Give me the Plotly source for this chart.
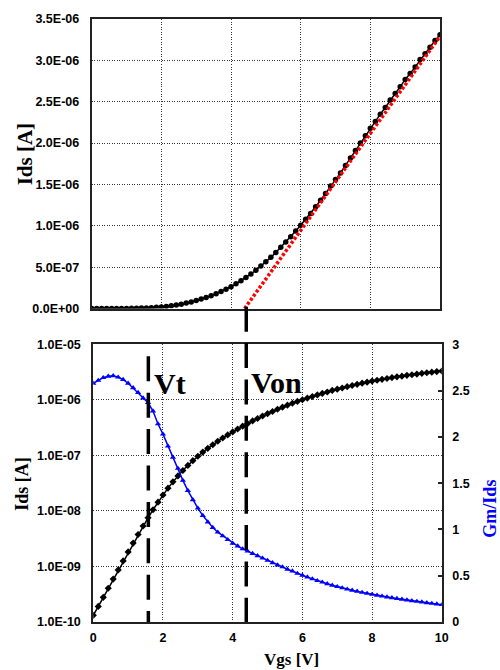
import plotly.graph_objects as go

# ---------------- data ----------------
VGS = [0.0, 0.143, 0.286, 0.429, 0.571, 0.714, 0.857,
       1.0, 1.143, 1.286, 1.429, 1.571, 1.714, 1.857,
       2.0, 2.143, 2.286, 2.429, 2.571, 2.714, 2.857,
       3.0, 3.143, 3.286, 3.429, 3.571, 3.714, 3.857,
       4.0, 4.143, 4.286, 4.429, 4.571, 4.714, 4.857,
       5.0, 5.143, 5.286, 5.429, 5.571, 5.714, 5.857,
       6.0, 6.143, 6.286, 6.429, 6.571, 6.714, 6.857,
       7.0, 7.143, 7.286, 7.429, 7.571, 7.714, 7.857,
       8.0, 8.143, 8.286, 8.429, 8.571, 8.714, 8.857,
       9.0, 9.143, 9.286, 9.429, 9.571, 9.714, 9.857,
       10.0]

IDS = [1.32e-10, 1.91e-10, 2.78e-10, 4.06e-10, 5.93e-10, 8.67e-10, 1.26e-9,
       1.83e-9, 2.64e-9, 3.77e-9, 5.35e-9, 7.53e-9, 1.05e-8, 1.44e-8,
       1.94e-8, 2.57e-8, 3.34e-8, 4.27e-8, 5.36e-8, 6.62e-8, 8.05e-8,
       9.66e-8, 1.15e-7, 1.34e-7, 1.56e-7, 1.80e-7, 2.06e-7, 2.34e-7,
       2.65e-7, 2.99e-7, 3.36e-7, 3.75e-7, 4.18e-7, 4.63e-7, 5.13e-7,
       5.65e-7, 6.19e-7, 6.78e-7, 7.40e-7, 8.04e-7, 8.69e-7, 9.38e-7,
       1.007e-6, 1.08e-6, 1.15e-6, 1.23e-6, 1.31e-6, 1.39e-6, 1.48e-6,
       1.56e-6, 1.64e-6, 1.73e-6, 1.82e-6, 1.91e-6, 2.00e-6, 2.09e-6,
       2.18e-6, 2.26e-6, 2.35e-6, 2.43e-6, 2.52e-6, 2.60e-6, 2.68e-6,
       2.77e-6, 2.84e-6, 2.92e-6, 3.01e-6, 3.08e-6, 3.16e-6, 3.24e-6,
       3.31e-6]

GM_IDS = [2.58, 2.61, 2.64, 2.655, 2.66, 2.645, 2.62,
          2.58, 2.53, 2.48, 2.42, 2.37, 2.28, 2.14,
          2.03, 1.90, 1.78, 1.66, 1.53, 1.42, 1.32,
          1.23, 1.15, 1.08, 1.02, 0.97, 0.93, 0.89,
          0.85, 0.82, 0.79, 0.765, 0.74, 0.715, 0.69,
          0.665, 0.64, 0.615, 0.595, 0.57, 0.55, 0.525,
          0.505, 0.485, 0.465, 0.447, 0.43, 0.413, 0.397,
          0.382, 0.368, 0.355, 0.343, 0.331, 0.32, 0.309,
          0.298, 0.288, 0.279, 0.27, 0.261, 0.253, 0.245,
          0.237, 0.229, 0.222, 0.215, 0.208, 0.201, 0.194,
          0.187]

FIT_VGS = [4.39, 10.0]
FIT_IDS = [0.0, 3.29e-6]

VT = 1.58
VON = 4.39

TOP_TICKS = [0.0, 0.5e-6, 1.0e-6, 1.5e-6, 2.0e-6, 2.5e-6, 3.0e-6, 3.5e-6]
TOP_TICK_TEXT = ["0.0E+00", "5.0E-07", "1.0E-06", "1.5E-06",
                 "2.0E-06", "2.5E-06", "3.0E-06", "3.5E-06"]
LOG_TICKS = [1e-10, 1e-9, 1e-8, 1e-7, 1e-6, 1e-5]
LOG_TICK_TEXT = ["1.0E-10", "1.0E-09", "1.0E-08", "1.0E-07", "1.0E-06", "1.0E-05"]
RIGHT_TICKS = [0, 0.5, 1, 1.5, 2, 2.5, 3]
RIGHT_TICK_TEXT = ["0", "0.5", "1", "1.5", "2", "2.5", "3"]
X_TICKS = [0, 2, 4, 6, 8, 10]
X_TICK_TEXT = ["0", "2", "4", "6", "8", "10"]

# ---------------- figure ----------------
SANS = "Liberation Sans, Arial, sans-serif"
SERIF = "'Liberation Serif', 'Times New Roman', 'DejaVu Serif', serif"
tickfont = dict(family=SANS, size=12.5, color="black", weight="bold")
AXCOL = "#222222"
GRIDCOL = "#333333"
GRIDDASH = "1px,1.5px"

fig = go.Figure()

fig.add_trace(go.Scatter(x=VGS, y=IDS, xaxis="x", yaxis="y", mode="lines+markers",
                         line=dict(color="black", width=1.5),
                         marker=dict(symbol="circle", size=5.5, color="black"),
                         showlegend=False))
fig.add_trace(go.Scatter(x=FIT_VGS, y=FIT_IDS, xaxis="x", yaxis="y", mode="lines",
                         line=dict(color="#ff0000", width=3.5, dash="3px,2px"),
                         showlegend=False))
fig.add_trace(go.Scatter(x=VGS, y=IDS, xaxis="x2", yaxis="y2", mode="lines+markers",
                         line=dict(color="black", width=1.5),
                         marker=dict(symbol="diamond", size=5.5, color="black"),
                         showlegend=False))
fig.add_trace(go.Scatter(x=VGS, y=GM_IDS, xaxis="x2", yaxis="y3", mode="lines+markers",
                         line=dict(color="#0000ff", width=1.5),
                         marker=dict(symbol="triangle-up", size=5.5, color="#0000ff"),
                         showlegend=False))

common_x = dict(range=[0, 10], showline=True, linecolor=AXCOL, linewidth=2, mirror=True,
                showgrid=True, gridcolor=GRIDCOL, griddash=GRIDDASH, gridwidth=1,
                zeroline=False, tickvals=X_TICKS, ticks="")

fig.update_layout(
    width=500, height=670,
    margin=dict(l=91, r=57, t=16, b=48, pad=0),
    paper_bgcolor="white", plot_bgcolor="white",
    xaxis=dict(domain=[0.002, 0.9915], anchor="y", showticklabels=False, **common_x),
    yaxis=dict(domain=[0.5198, 1.0], anchor="x", range=[0, 3.5e-6],
               tickvals=TOP_TICKS, ticktext=TOP_TICK_TEXT, tickfont=tickfont,
               showline=True, linecolor=AXCOL, linewidth=2, mirror=True,
               showgrid=True, gridcolor=GRIDCOL, griddash=GRIDDASH, gridwidth=1,
               zeroline=False, ticks="", ticklabelstandoff=8),
    xaxis2=dict(domain=[0.0065, 0.9965], anchor="y2", ticktext=X_TICK_TEXT,
                tickfont=tickfont, ticklabelstandoff=3, **common_x),
    yaxis2=dict(domain=[0.0, 0.4604], anchor="x2", type="log", range=[-10, -5],
                tickvals=LOG_TICKS, ticktext=LOG_TICK_TEXT, tickfont=tickfont,
                showline=True, linecolor=AXCOL, linewidth=2, mirror=True,
                showgrid=True, gridcolor=GRIDCOL, griddash=GRIDDASH, gridwidth=1,
                zeroline=False, ticks="", ticklabelstandoff=8),
    yaxis3=dict(anchor="x2", overlaying="y2", side="right", range=[0, 3],
                tickvals=RIGHT_TICKS, ticktext=RIGHT_TICK_TEXT, tickfont=tickfont,
                showline=True, linecolor=AXCOL, linewidth=2,
                showgrid=False, zeroline=False, ticks="inside", ticklen=4,
                tickwidth=1.5, tickcolor=AXCOL, ticklabelstandoff=6),
)

# vertical dashed marker lines
fig.add_shape(type="line", xref="x2", yref="y2 domain", x0=VT, x1=VT, y0=0.957, y1=0.0,
              line=dict(color="black", width=3.5, dash="25px,11.4px"))
fig.add_shape(type="line", xref="x2", yref="paper", x0=VON, x1=VON, y0=0.523, y1=0.0,
              line=dict(color="black", width=3.5, dash="25px,11.4px"))

def ann(text, x, y, size, color="black", angle=0):
    fig.add_annotation(text=text, xref="paper", yref="paper", x=x, y=y,
                       xanchor="center", yanchor="middle", showarrow=False,
                       textangle=angle,
                       font=dict(family=SERIF, size=size, color=color, weight="bold"))

ann("Ids [A]", -0.1875, 0.7756, 21, angle=-90)
ann("Ids [A]", -0.196, 0.2294, 18, angle=-90)
ann("Gm/Ids", 1.1335, 0.188, 18, color="#0000ff", angle=-90)
ann("Vgs [V]", 0.571, -0.0627, 17)
ann("Vt", 0.2244, 0.3952, 30)
ann("Von", 0.5284, 0.3977, 30)

fig.write_html("out.html")
